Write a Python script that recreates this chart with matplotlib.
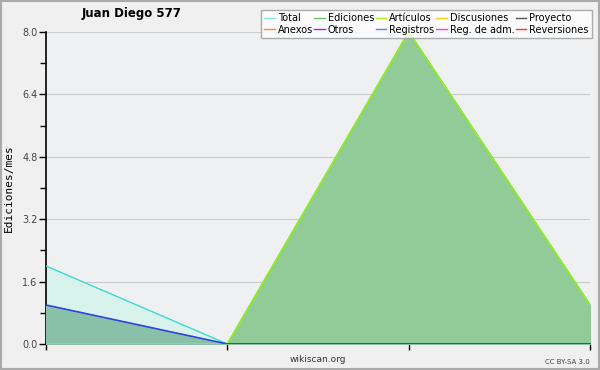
import matplotlib
matplotlib.use("Agg")
import matplotlib.pyplot as plt
from matplotlib.patches import Rectangle
from matplotlib.lines import Line2D
from matplotlib.ticker import MultipleLocator, FormatStrFormatter

x = [0, 1, 2, 3]
total = [2, 0, 8, 1]
ediciones = [1, 0, 8, 1]
articulos = [0, 0, 8, 1]
registros = [1, 0, 0, 0]

legend_names = ["Total", "Ediciones", "Artículos", "Discusiones", "Proyecto",
                "Anexos", "Otros", "Registros", "Reg. de adm.", "Reversiones"]
legend_colors = ["#88e6e6", "#66cc66", "#aaee22", "#ffcc22", "#555555",
                 "#ff8833", "#8833dd", "#6677ff", "#dd44ff", "#ff3333"]

fig = plt.figure(figsize=(6, 3.7), dpi=100, facecolor="#f0f0f0")
fig.patches.append(Rectangle((0.0015, 0.002), 0.997, 0.996, transform=fig.transFigure,
                             fill=False, edgecolor="#aaaaaa", linewidth=1.5))
ax = fig.add_axes([46/600, 26/370, 544/600, 312/370])
ax.set_facecolor("#eff0f2")

ax.fill_between(x, total, color="#d8f2ec", zorder=1)
ax.fill_between(x, ediciones, color="#90cb98", zorder=2)
ax.fill_between(x, registros, color="#88c0a8", zorder=3)
ax.plot(x, total, color="#40d8d0", lw=1, zorder=4)
ax.plot(x, articulos, color="#99ee11", lw=1.2, zorder=5)
ax.plot(x, registros, color="#3344dd", lw=1.2, zorder=6)

ax.set_xlim(0, 3)
ax.set_ylim(0, 8)
ax.yaxis.set_major_locator(MultipleLocator(1.6))
ax.yaxis.set_minor_locator(MultipleLocator(0.8))
ax.yaxis.set_major_formatter(FormatStrFormatter("%.1f"))
ax.set_xticks(x)
ax.set_xticklabels([])
ax.grid(axis="y", color="#cccccc", lw=0.8, zorder=0)
ax.set_axisbelow(True)
for s in ["top", "right"]:
    ax.spines[s].set_visible(False)
for s in ["left", "bottom"]:
    ax.spines[s].set_linewidth(1.2)
ax.tick_params(axis="y", labelsize=7, labelcolor="#444444", length=5, width=1, pad=1)
ax.tick_params(axis="y", which="minor", length=4, width=1)
ax.tick_params(axis="x", length=4, width=1)
ax.set_ylabel("Ediciones/mes", family="DejaVu Sans Mono", fontsize=8, labelpad=6)

fig.text(132/600, 1 - 14/370, "Juan Diego 577", ha="center", va="center",
         fontsize=8.5, fontweight="bold")
fig.text(318/600, 1 - 360/370, "wikiscan.org", ha="center", va="center", fontsize=6.5, color="#333333")
fig.text(590/600, 1 - 362/370, "CC BY-SA 3.0", ha="right", va="center", fontsize=5, color="#444444")

order = [0, 5, 1, 6, 2, 7, 3, 8, 4, 9]
handles = [Line2D([], [], color=legend_colors[i], lw=1) for i in order]
labels = [legend_names[i] for i in order]
leg = fig.legend(handles, labels, ncol=5, loc="upper right", bbox_to_anchor=(592/600, 1 - 10/370),
                 fontsize=7, frameon=True, fancybox=False, borderpad=0.35, labelspacing=0.15,
                 columnspacing=0.15, handlelength=1.1, handletextpad=0.3, borderaxespad=0)
leg.get_frame().set_edgecolor("#999999")
leg.get_frame().set_facecolor("white")
leg.get_frame().set_linewidth(1)

fig.savefig("out.png", dpi=100, facecolor=fig.get_facecolor())
